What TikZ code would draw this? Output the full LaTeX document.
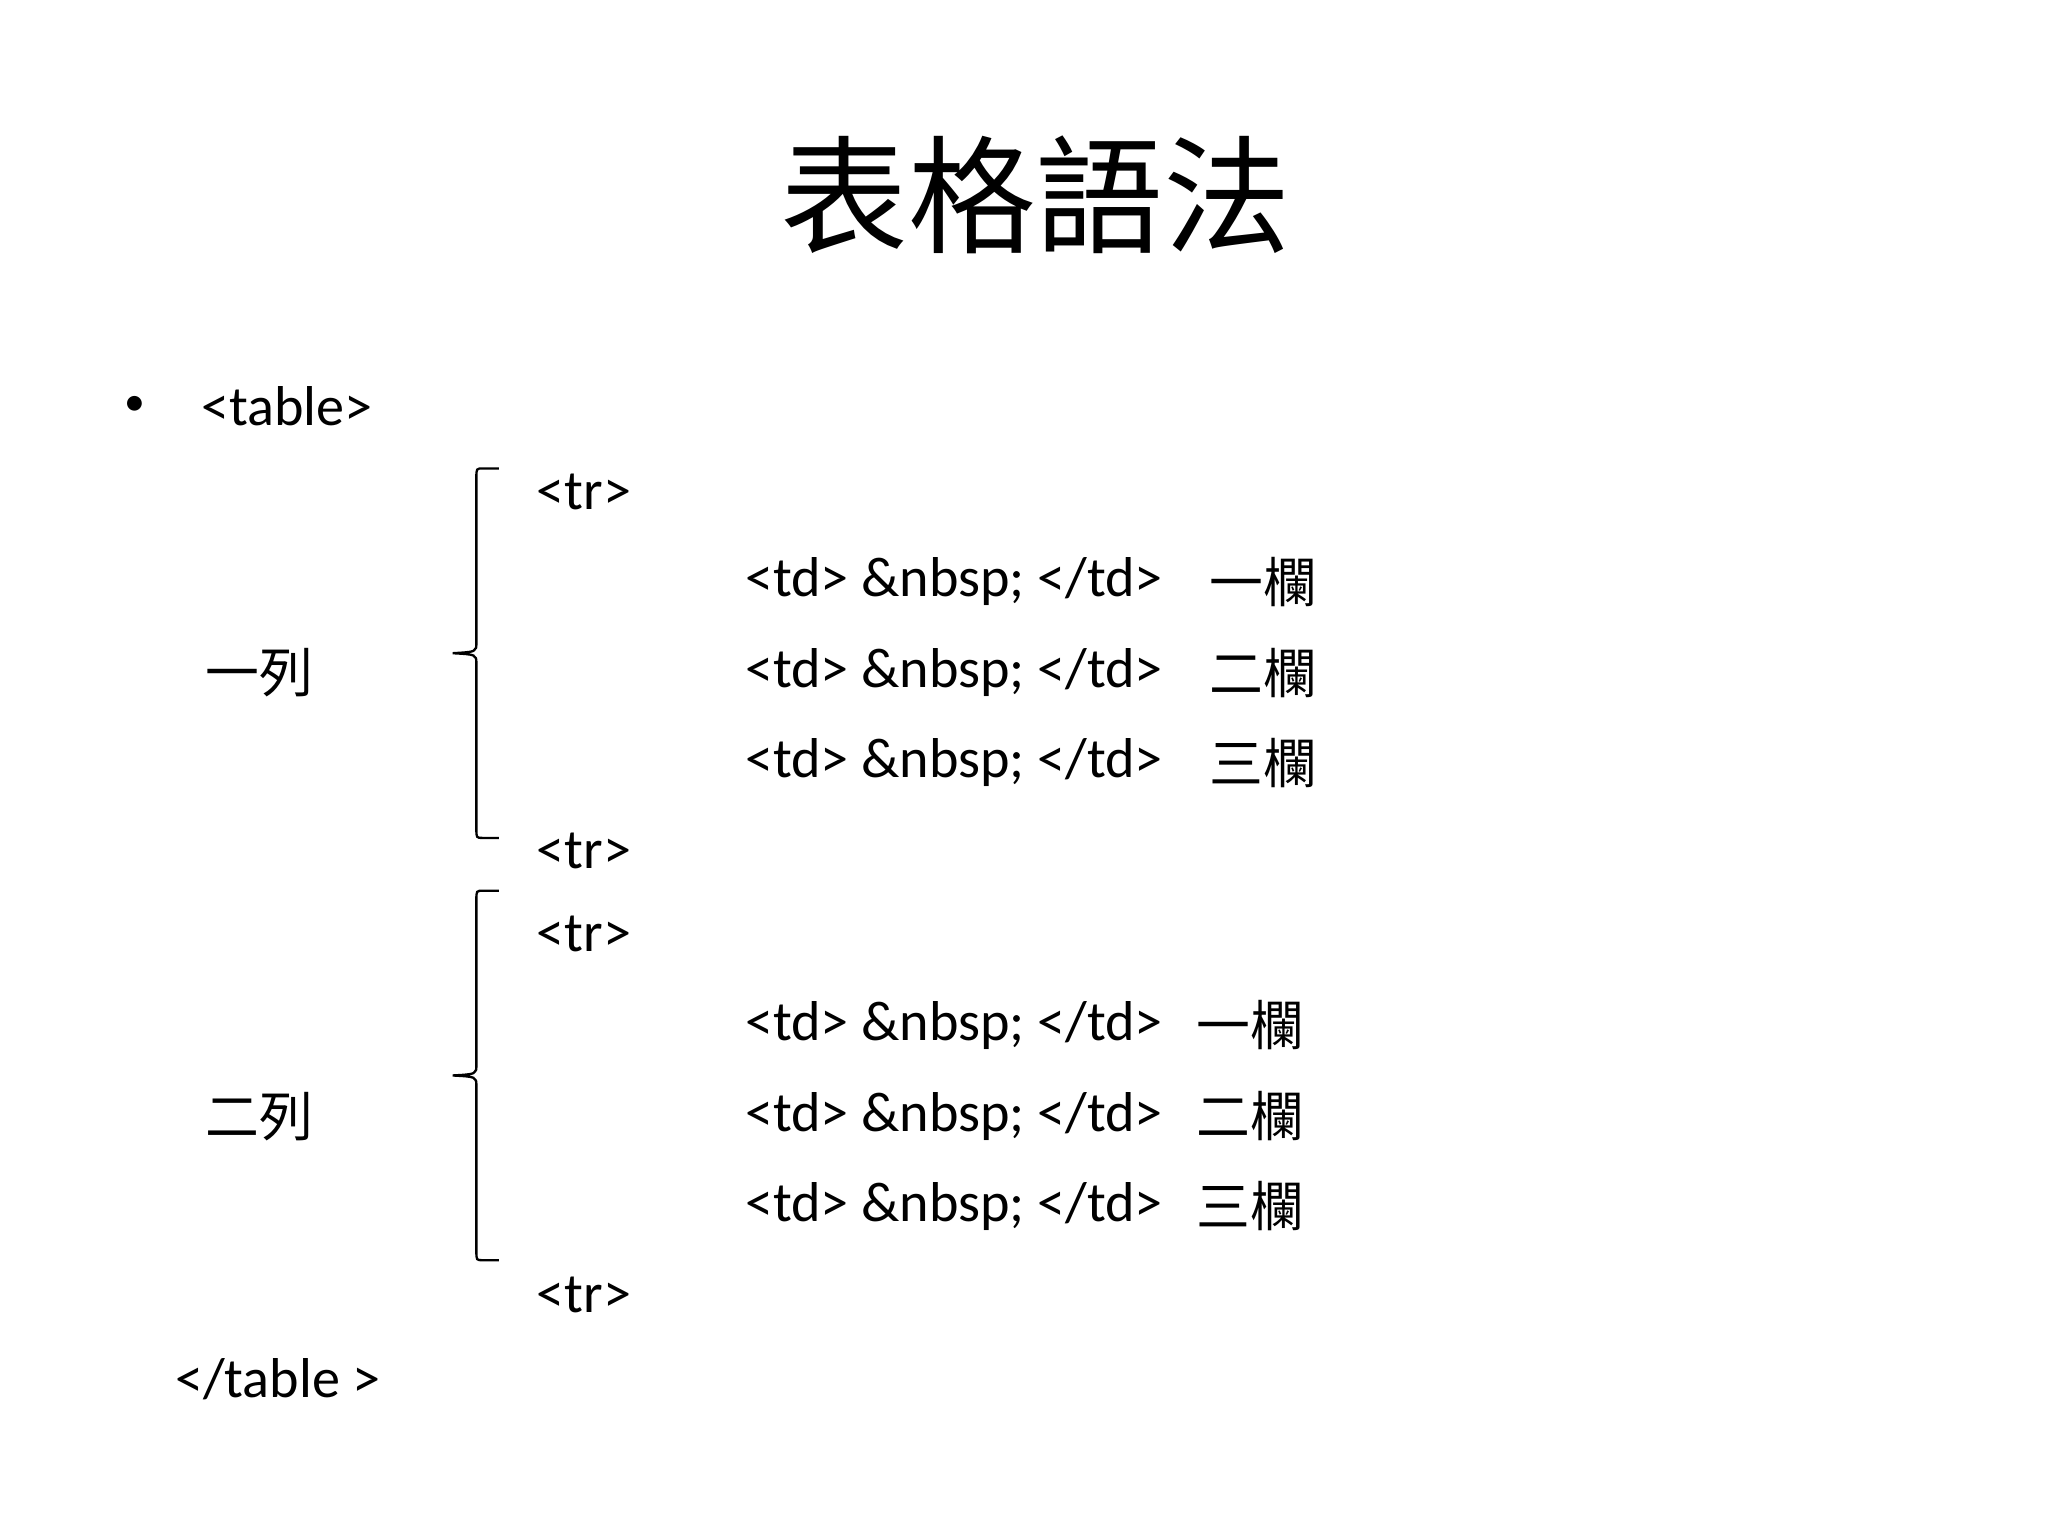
\documentclass[tikz,border=0pt]{standalone}
\usepackage{fontspec}
\setmainfont{Carlito}
\newfontfamily\cjk{Noto Sans CJK TC}
\begin{document}
\begin{tikzpicture}[x=0.01cm,y=-0.01cm,
  txt/.style={anchor=west,inner sep=0pt,font=\fontsize{12.1}{14}\selectfont},
  ctxt/.style={anchor=west,inner sep=0pt,font=\cjk\fontsize{11.6}{14}\selectfont},
  br/.style={line width=0.5pt}]
\useasboundingbox (0,0) rectangle (1552,1164);
\node[font=\cjk\fontsize{27.5}{30}\selectfont,inner sep=0pt] (title) at (785,148) {表格語法};
\node[txt,font=\fontsize{9}{10}\selectfont] (bul) at (94,308) {•};
\node[txt] (tab) at (152,308) {<table>};
\node[txt] (tr1) at (406,373) {<tr>};
\node[txt] (d11) at (564,441) {<td> \&nbsp; </td>};
\node[txt] (d12) at (564,510) {<td> \&nbsp; </td>};
\node[txt] (d13) at (564,578) {<td> \&nbsp; </td>};
\node[ctxt] (c11) at (916,441) {一欄};
\node[ctxt] (c12) at (916,510) {二欄};
\node[ctxt] (c13) at (916,578) {三欄};
\node[txt] (tr2) at (406,645) {<tr>};
\node[txt] (tr3) at (406,708) {<tr>};
\node[txt] (d21) at (564,777) {<td> \&nbsp; </td>};
\node[txt] (d22) at (564,846) {<td> \&nbsp; </td>};
\node[txt] (d23) at (564,914) {<td> \&nbsp; </td>};
\node[ctxt] (c21) at (906,777) {一欄};
\node[ctxt] (c22) at (906,846) {二欄};
\node[ctxt] (c23) at (906,914) {三欄};
\node[txt] (tr4) at (406,981) {<tr>};
\node[txt] (etab) at (132,1045) {</table >};
\node[ctxt] (r1) at (155,510) {一列};
\node[ctxt] (r2) at (155,846) {二列};
\draw[br] (378,355) -- (366,355) .. controls (361,355) .. (361,362) -- (361,487) .. controls (361,494) .. (343,495) .. controls (361,496) .. (361,503) -- (361,628) .. controls (361,635) .. (366,635) -- (378,635);
\draw[br] (378,675) -- (366,675) .. controls (361,675) .. (361,682) -- (361,807) .. controls (361,814) .. (343,815) .. controls (361,816) .. (361,823) -- (361,948) .. controls (361,955) .. (366,955) -- (378,955);
\end{tikzpicture}
\end{document}
